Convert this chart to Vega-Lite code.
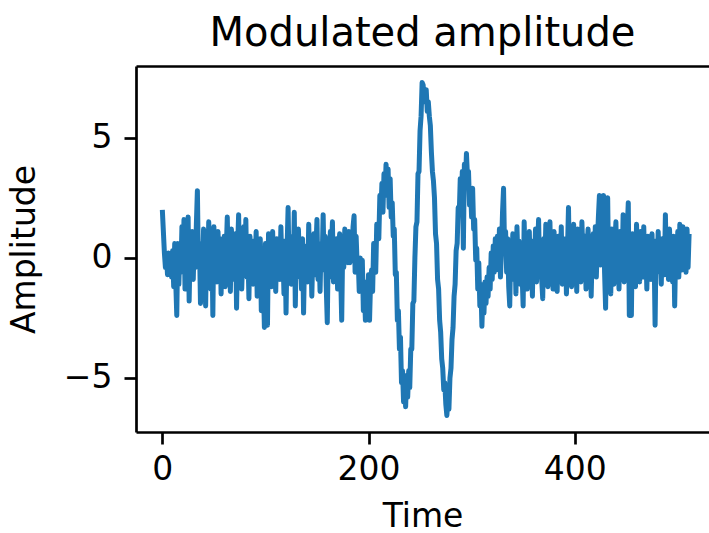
{
  "$schema": "https://vega.github.io/schema/vega-lite/v6.json",
  "width": 573,
  "height": 366,
  "autosize": "none",
  "padding": {"left": 136, "top": 66, "right": 0, "bottom": 101},
  "background": "white",
  "title": {"text": "Modulated amplitude", "fontSize": 40, "font": "DejaVu Sans", "fontWeight": "normal", "color": "black", "offset": 12, "anchor": "middle"},
  "config": {
    "view": {"stroke": null},
    "font": "DejaVu Sans",
    "axis": {"grid": false, "domainColor": "black", "domainWidth": 2.7, "tickColor": "black", "tickWidth": 2.7, "tickSize": 12, "labelFontSize": 33, "labelColor": "black", "labelFont": "DejaVu Sans", "titleFontSize": 33, "titleFont": "DejaVu Sans", "titleFontWeight": "normal", "titleColor": "black"}
  },
  "data": {"values": [
{"t":0,"v":2.0},{"t":1,"v":1.1},{"t":2,"v":0.2},{"t":3,"v":-0.4},{"t":4,"v":0.1},{"t":5,"v":-0.7},{"t":6,"v":0.2},{"t":7,"v":-0.5},{"t":8,"v":-0.2},{"t":9,"v":-0.8},
{"t":10,"v":0.3},{"t":11,"v":-1.2},{"t":12,"v":0.6},{"t":13,"v":-1.0},{"t":14,"v":-2.4},{"t":15,"v":0.6},{"t":16,"v":-1.1},{"t":17,"v":0.3},{"t":18,"v":-0.6},{"t":19,"v":1.3},
{"t":20,"v":-0.2},{"t":21,"v":1.6},{"t":22,"v":-1.3},{"t":23,"v":0.1},{"t":24,"v":-0.8},{"t":25,"v":1.7},{"t":26,"v":-1.8},{"t":27,"v":0.5},{"t":28,"v":-0.2},{"t":29,"v":1.1},
{"t":30,"v":-0.9},{"t":31,"v":0.8},{"t":32,"v":-0.4},{"t":33,"v":1.4},{"t":34,"v":2.8},{"t":35,"v":-0.3},{"t":36,"v":0.6},{"t":37,"v":-1.9},{"t":38,"v":0.2},{"t":39,"v":-0.7},
{"t":40,"v":1.2},{"t":41,"v":-0.1},{"t":42,"v":-2.0},{"t":43,"v":0.7},{"t":44,"v":-0.6},{"t":45,"v":1.5},{"t":46,"v":0.3},{"t":47,"v":-1.3},{"t":48,"v":0.9},{"t":49,"v":-2.4},
{"t":50,"v":1.3},{"t":51,"v":-0.5},{"t":52,"v":0.4},{"t":53,"v":-1.0},{"t":54,"v":1.1},{"t":55,"v":-0.2},{"t":56,"v":0.8},{"t":57,"v":-1.5},{"t":58,"v":0.5},{"t":59,"v":-0.4},
{"t":60,"v":0.9},{"t":61,"v":-1.2},{"t":62,"v":0.3},{"t":63,"v":1.7},{"t":64,"v":-0.7},{"t":65,"v":0.6},{"t":66,"v":-1.4},{"t":67,"v":1.2},{"t":68,"v":-0.3},{"t":69,"v":0.2},
{"t":70,"v":-0.9},{"t":71,"v":1.0},{"t":72,"v":-2.1},{"t":73,"v":0.4},{"t":74,"v":1.8},{"t":75,"v":-0.6},{"t":76,"v":0.7},{"t":77,"v":-1.3},{"t":78,"v":0.1},{"t":79,"v":1.3},
{"t":80,"v":-0.5},{"t":81,"v":1.6},{"t":82,"v":-0.8},{"t":83,"v":0.3},{"t":84,"v":-1.7},{"t":85,"v":0.9},{"t":86,"v":-0.2},{"t":87,"v":0.5},{"t":88,"v":-1.1},{"t":89,"v":0.7},
{"t":90,"v":-0.4},{"t":91,"v":1.1},{"t":92,"v":-1.6},{"t":93,"v":0.2},{"t":94,"v":-0.9},{"t":95,"v":0.8},{"t":96,"v":-2.2},{"t":97,"v":0.4},{"t":98,"v":-1.0},{"t":99,"v":-2.9},
{"t":100,"v":0.6},{"t":101,"v":-0.7},{"t":102,"v":-2.8},{"t":103,"v":1.0},{"t":104,"v":-0.3},{"t":105,"v":0.5},{"t":106,"v":-1.2},{"t":107,"v":1.1},{"t":108,"v":-0.6},{"t":109,"v":0.3},
{"t":110,"v":-1.4},{"t":111,"v":0.8},{"t":112,"v":-0.1},{"t":113,"v":0.6},{"t":114,"v":-0.9},{"t":115,"v":1.3},{"t":116,"v":-0.4},{"t":117,"v":0.2},{"t":118,"v":-1.5},{"t":119,"v":0.7},
{"t":120,"v":-2.3},{"t":121,"v":0.4},{"t":122,"v":2.1},{"t":123,"v":-0.6},{"t":124,"v":0.9},{"t":125,"v":-1.1},{"t":126,"v":0.3},{"t":127,"v":-0.5},{"t":128,"v":1.9},{"t":129,"v":-2.0},
{"t":130,"v":0.6},{"t":131,"v":-0.8},{"t":132,"v":1.2},{"t":133,"v":-0.2},{"t":134,"v":0.4},{"t":135,"v":-1.3},{"t":136,"v":0.8},{"t":137,"v":-2.3},{"t":138,"v":0.1},{"t":139,"v":-0.6},
{"t":140,"v":0.5},{"t":141,"v":-1.0},{"t":142,"v":1.4},{"t":143,"v":-0.3},{"t":144,"v":0.7},{"t":145,"v":-1.6},{"t":146,"v":0.2},{"t":147,"v":1.0},{"t":148,"v":-0.7},{"t":149,"v":0.4},
{"t":150,"v":1.6},{"t":151,"v":-0.9},{"t":152,"v":0.3},{"t":153,"v":-1.4},{"t":154,"v":0.6},{"t":155,"v":-0.2},{"t":156,"v":1.8},{"t":157,"v":-0.5},{"t":158,"v":0.9},{"t":159,"v":-1.2},
{"t":160,"v":-2.7},{"t":161,"v":0.5},{"t":162,"v":-0.8},{"t":163,"v":1.1},{"t":164,"v":0.2},{"t":165,"v":1.5},{"t":166,"v":-1.0},{"t":167,"v":0.4},{"t":168,"v":-0.6},{"t":169,"v":0.8},
{"t":170,"v":-1.3},{"t":171,"v":0.3},{"t":172,"v":1.0},{"t":173,"v":-0.7},{"t":174,"v":-2.6},{"t":175,"v":0.6},{"t":176,"v":-0.4},{"t":177,"v":1.2},{"t":178,"v":0.0},{"t":179,"v":0.5},
{"t":180,"v":-0.2},{"t":181,"v":1.1},{"t":182,"v":-0.2},{"t":183,"v":0.7},{"t":184,"v":0.1},{"t":185,"v":1.3},{"t":186,"v":1.75},{"t":187,"v":-0.6},{"t":188,"v":0.9},{"t":189,"v":-0.3},
{"t":190,"v":-0.1},{"t":191,"v":-1.4},{"t":192,"v":0.0},{"t":193,"v":-1.4},{"t":194,"v":-0.1},{"t":195,"v":-2.2},{"t":196,"v":-1.3},{"t":197,"v":-2.6},{"t":198,"v":-1.0},{"t":199,"v":-2.0},
{"t":200,"v":-0.7},{"t":201,"v":-2.6},{"t":202,"v":-1.0},{"t":203,"v":-0.5},{"t":204,"v":-1.4},{"t":205,"v":0.6},{"t":206,"v":-0.3},{"t":207,"v":-0.6},{"t":208,"v":1.4},{"t":209,"v":1.3},
{"t":210,"v":0.8},{"t":211,"v":2.6},{"t":212,"v":1.9},{"t":213,"v":3.1},{"t":214,"v":1.9},{"t":215,"v":3.5},{"t":216,"v":2.6},{"t":217,"v":3.9},{"t":218,"v":2.9},{"t":219,"v":3.7},
{"t":220,"v":2.1},{"t":221,"v":3.3},{"t":222,"v":1.7},{"t":223,"v":2.3},{"t":224,"v":0.9},{"t":225,"v":1.2},{"t":226,"v":-0.7},{"t":227,"v":-0.6},{"t":228,"v":-2.6},{"t":229,"v":-2.2},
{"t":230,"v":-3.8},{"t":231,"v":-3.3},{"t":232,"v":-5.2},{"t":233,"v":-4.7},{"t":234,"v":-6.0},{"t":235,"v":-5.1},{"t":236,"v":-6.2},{"t":237,"v":-4.9},{"t":238,"v":-5.8},{"t":239,"v":-4.7},
{"t":240,"v":-5.4},{"t":241,"v":-3.8},{"t":242,"v":-3.8},{"t":243,"v":-1.9},{"t":244,"v":-1.8},{"t":245,"v":0.0},{"t":246,"v":1.3},{"t":247,"v":1.5},{"t":248,"v":3.5},{"t":249,"v":3.6},
{"t":250,"v":5.3},{"t":251,"v":5.9},{"t":252,"v":7.3},{"t":253,"v":7.2},{"t":254,"v":6.5},{"t":255,"v":6.9},{"t":256,"v":7.0},{"t":257,"v":6.1},{"t":258,"v":6.5},{"t":259,"v":5.9},
{"t":260,"v":5.5},{"t":261,"v":4.4},{"t":262,"v":3.6},{"t":263,"v":3.2},{"t":264,"v":2.5},{"t":265,"v":1.0},{"t":266,"v":0.6},{"t":267,"v":-0.9},{"t":268,"v":-1.3},{"t":269,"v":-2.6},
{"t":270,"v":-3.1},{"t":271,"v":-4.2},{"t":272,"v":-4.6},{"t":273,"v":-5.5},{"t":274,"v":-5.2},{"t":275,"v":-6.1},{"t":276,"v":-6.56},{"t":277,"v":-5.9},{"t":278,"v":-6.3},{"t":279,"v":-5.0},
{"t":280,"v":-4.6},{"t":281,"v":-3.4},{"t":282,"v":-2.9},{"t":283,"v":-1.6},{"t":284,"v":-1.1},{"t":285,"v":0.3},{"t":286,"v":0.6},{"t":287,"v":2.1},{"t":288,"v":1.8},{"t":289,"v":3.3},
{"t":290,"v":2.4},{"t":291,"v":3.6},{"t":292,"v":0.4},{"t":293,"v":3.9},{"t":294,"v":3.1},{"t":295,"v":4.35},{"t":296,"v":3.4},{"t":297,"v":3.6},{"t":298,"v":2.2},{"t":299,"v":2.9},
{"t":300,"v":1.7},{"t":301,"v":2.9},{"t":302,"v":1.2},{"t":303,"v":1.6},{"t":304,"v":-0.1},{"t":305,"v":0.4},{"t":306,"v":-1.3},{"t":307,"v":-0.2},{"t":308,"v":-2.0},{"t":309,"v":-1.1},
{"t":310,"v":-2.85},{"t":311,"v":-1.4},{"t":312,"v":-2.3},{"t":313,"v":-1.0},{"t":314,"v":-1.9},{"t":315,"v":-0.8},{"t":316,"v":-1.6},{"t":317,"v":-0.4},{"t":318,"v":-1.3},{"t":319,"v":0.2},
{"t":320,"v":-0.9},{"t":321,"v":0.5},{"t":322,"v":-0.6},{"t":323,"v":0.8},{"t":324,"v":-0.3},{"t":325,"v":0.9},{"t":326,"v":-0.5},{"t":327,"v":1.2},{"t":328,"v":-0.8},{"t":329,"v":0.4},
{"t":330,"v":1.9},{"t":331,"v":2.9},{"t":332,"v":0.3},{"t":333,"v":1.1},{"t":334,"v":-0.6},{"t":335,"v":0.8},{"t":336,"v":-1.2},{"t":337,"v":-2.0},{"t":338,"v":0.5},{"t":339,"v":-0.3},
{"t":340,"v":1.0},{"t":341,"v":-0.9},{"t":342,"v":0.6},{"t":343,"v":-1.5},{"t":344,"v":1.3},{"t":345,"v":-0.2},{"t":346,"v":0.7},{"t":347,"v":-1.1},{"t":348,"v":0.2},{"t":349,"v":-0.7},
{"t":350,"v":-2.0},{"t":351,"v":1.5},{"t":352,"v":-0.4},{"t":353,"v":0.9},{"t":354,"v":-1.3},{"t":355,"v":0.1},{"t":356,"v":1.1},{"t":357,"v":-0.8},{"t":358,"v":0.5},{"t":359,"v":-1.6},
{"t":360,"v":0.7},{"t":361,"v":-0.3},{"t":362,"v":1.2},{"t":363,"v":-1.0},{"t":364,"v":0.4},{"t":365,"v":1.6},{"t":366,"v":-0.6},{"t":367,"v":0.2},{"t":368,"v":-0.9},{"t":369,"v":-1.7},
{"t":370,"v":0.8},{"t":371,"v":-0.4},{"t":372,"v":1.4},{"t":373,"v":-0.1},{"t":374,"v":-1.2},{"t":375,"v":0.6},{"t":376,"v":1.5},{"t":377,"v":-0.7},{"t":378,"v":0.3},{"t":379,"v":-1.3},
{"t":380,"v":1.1},{"t":381,"v":-0.5},{"t":382,"v":0.4},{"t":383,"v":-1.4},{"t":384,"v":0.9},{"t":385,"v":0.2},{"t":386,"v":-0.8},{"t":387,"v":1.3},{"t":388,"v":-1.1},{"t":389,"v":0.5},
{"t":390,"v":-0.2},{"t":391,"v":0.8},{"t":392,"v":-1.5},{"t":393,"v":0.3},{"t":394,"v":2.1},{"t":395,"v":-0.6},{"t":396,"v":1.0},{"t":397,"v":-1.2},{"t":398,"v":0.4},{"t":399,"v":1.4},
{"t":400,"v":-0.9},{"t":401,"v":0.6},{"t":402,"v":-1.4},{"t":403,"v":1.2},{"t":404,"v":-0.3},{"t":405,"v":0.7},{"t":406,"v":-1.0},{"t":407,"v":1.5},{"t":408,"v":0.1},{"t":409,"v":-0.7},
{"t":410,"v":0.9},{"t":411,"v":-1.3},{"t":412,"v":0.4},{"t":413,"v":1.2},{"t":414,"v":-0.5},{"t":415,"v":0.8},{"t":416,"v":-1.6},{"t":417,"v":0.3},{"t":418,"v":1.0},{"t":419,"v":-0.4},
{"t":420,"v":1.3},{"t":421,"v":-0.8},{"t":422,"v":0.6},{"t":423,"v":1.7},{"t":424,"v":2.6},{"t":425,"v":-0.3},{"t":426,"v":2.4},{"t":427,"v":0.9},{"t":428,"v":2.6},{"t":429,"v":-0.6},
{"t":430,"v":-2.1},{"t":431,"v":1.4},{"t":432,"v":2.5},{"t":433,"v":-0.9},{"t":434,"v":0.7},{"t":435,"v":-1.5},{"t":436,"v":1.2},{"t":437,"v":0.2},{"t":438,"v":-1.1},{"t":439,"v":0.6},
{"t":440,"v":1.5},{"t":441,"v":-0.7},{"t":442,"v":0.3},{"t":443,"v":-1.3},{"t":444,"v":1.1},{"t":445,"v":0.5},{"t":446,"v":-0.4},{"t":447,"v":1.8},{"t":448,"v":-1.0},{"t":449,"v":0.4},
{"t":450,"v":-0.6},{"t":451,"v":1.2},{"t":452,"v":2.3},{"t":453,"v":-2.4},{"t":454,"v":0.7},{"t":455,"v":-2.4},{"t":456,"v":1.0},{"t":457,"v":-0.5},{"t":458,"v":0.8},{"t":459,"v":-1.2},
{"t":460,"v":1.4},{"t":461,"v":-0.3},{"t":462,"v":0.6},{"t":463,"v":-1.0},{"t":464,"v":1.1},{"t":465,"v":0.2},{"t":466,"v":-0.8},{"t":467,"v":1.3},{"t":468,"v":-0.4},{"t":469,"v":0.5},
{"t":470,"v":-1.3},{"t":471,"v":0.9},{"t":472,"v":-0.2},{"t":473,"v":0.6},{"t":474,"v":-0.9},{"t":475,"v":1.0},{"t":476,"v":-0.5},{"t":477,"v":0.3},{"t":478,"v":-2.8},{"t":479,"v":0.7},
{"t":480,"v":-0.6},{"t":481,"v":1.1},{"t":482,"v":-0.3},{"t":483,"v":0.4},{"t":484,"v":-1.1},{"t":485,"v":0.8},{"t":486,"v":0.1},{"t":487,"v":-0.7},{"t":488,"v":1.8},{"t":489,"v":-0.4},
{"t":490,"v":0.6},{"t":491,"v":-0.9},{"t":492,"v":1.2},{"t":493,"v":-0.2},{"t":494,"v":0.5},{"t":495,"v":-1.0},{"t":496,"v":0.9},{"t":497,"v":-2.0},{"t":498,"v":0.3},{"t":499,"v":-0.6},
{"t":500,"v":1.1},{"t":501,"v":-0.8},{"t":502,"v":1.4},{"t":503,"v":0.2},{"t":504,"v":-0.5},{"t":505,"v":1.3},{"t":506,"v":-0.3},{"t":507,"v":0.6},{"t":508,"v":-0.6},{"t":509,"v":1.2},
{"t":510,"v":-0.4},{"t":511,"v":1.0}
  ]},
  "layer": [
    {
      "mark": {"type": "line", "color": "#1f77b4", "strokeWidth": 5, "strokeJoin": "round", "clip": true},
      "encoding": {
        "x": {"field": "t", "type": "quantitative", "scale": {"domain": [-25.55, 530.3], "nice": false, "zero": false},
              "axis": {"orient": "bottom", "values": [0, 200, 400], "title": "Time", "labelPadding": 9, "titlePadding": 14}},
        "y": {"field": "v", "type": "quantitative", "scale": {"domain": [-7.25, 7.99], "nice": false, "zero": false},
              "axis": {"values": [-5, 0, 5], "title": "Amplitude", "labelPadding": 12, "titlePadding": 22}}
      }
    },
    {
      "mark": {"type": "rule", "opacity": 0},
      "encoding": {
        "x": {"field": "t", "type": "quantitative", "axis": {"orient": "top", "labels": false, "ticks": false, "title": null, "domain": true}}
      }
    }
  ],
  "resolve": {"axis": {"x": "independent"}}
}
